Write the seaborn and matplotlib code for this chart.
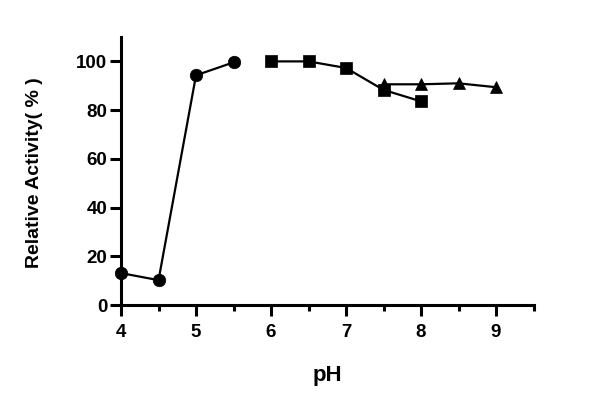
import matplotlib
matplotlib.use("Agg")
import matplotlib.pyplot as plt
import seaborn as sns
import pandas as pd
from matplotlib.ticker import MultipleLocator

ph_acid = [4.0, 4.5, 5.0, 5.5]
act_acid = [13.1, 10.2, 94.3, 99.6]
ph_mid = [6.0, 6.5, 7.0, 7.5, 8.0]
act_mid = [100.0, 100.0, 97.3, 88.3, 83.6]
ph_base = [7.5, 8.0, 8.5, 9.0]
act_base = [90.6, 90.6, 91.0, 89.4]

x_ticks = [4, 5, 6, 7, 8, 9]
y_ticks = [0, 20, 40, 60, 80, 100]

sns.set_style("ticks")
plt.rcParams['font.family'] = ['Liberation Sans', 'DejaVu Sans']
plt.rcParams['text.color'] = 'black'
plt.rcParams['axes.labelcolor'] = 'black'
plt.rcParams['xtick.color'] = 'black'
plt.rcParams['ytick.color'] = 'black'
plt.rcParams['axes.edgecolor'] = 'black'

fig = plt.figure(figsize=(6.0, 4.07), dpi=100)
ax = fig.add_axes([0.2017, 0.2506, 0.6875, 0.6584])

series = [(ph_acid, act_acid, 'o', 9), (ph_mid, act_mid, 's', 8.5), (ph_base, act_base, '^', 8.5)]
for xs, ys, m, ms in series:
    df = pd.DataFrame({'pH': xs, 'act': ys})
    sns.lineplot(data=df, x='pH', y='act', ax=ax, color='black', marker=m,
                 markersize=ms, linewidth=1.6, markeredgecolor='black',
                 markeredgewidth=0.5, clip_on=False, zorder=3)

ax.set_xlim(4, 9.5)
ax.set_ylim(0, 110)
ax.set_xticks(x_ticks)
ax.set_yticks(y_ticks)
ax.xaxis.set_minor_locator(MultipleLocator(0.5))
for s in ['top', 'right']:
    ax.spines[s].set_visible(False)
for s in ['left', 'bottom']:
    ax.spines[s].set_linewidth(2.2)
ax.tick_params(axis='both', which='major', width=2.2, length=8, labelsize=13.5)
ax.tick_params(axis='x', which='major', pad=6)
ax.tick_params(axis='y', which='major', pad=2)
ax.tick_params(axis='x', which='minor', width=2.2, length=4)
for lab in ax.get_xticklabels() + ax.get_yticklabels():
    lab.set_fontweight('bold')
ax.set_xlabel('pH', fontsize=16, fontweight='bold', labelpad=17)
ax.set_ylabel('Relative Activity( % )', fontsize=14, fontweight='bold')
ax.yaxis.set_label_coords(-0.19, 0.495)

fig.savefig('out.png', dpi=100)
